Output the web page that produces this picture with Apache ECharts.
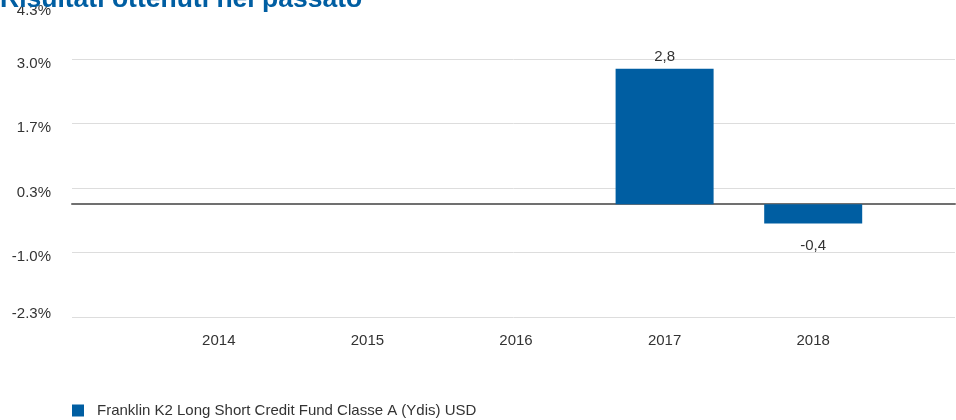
<!DOCTYPE html>
<html>
<head>
<meta charset="utf-8">
<script src="https://cdn.jsdelivr.net/npm/echarts@6/dist/echarts.min.js"></script>
<style>html,body{margin:0;padding:0;background:#fff}#c{width:956px;height:420px}</style>
</head>
<body>
<div id="c"></div>
<script>
var titleText = 'Risultati ottenuti nel passato';
var seriesName = 'Franklin K2 Long Short Credit Fund Classe A (Ydis) USD';
var categories = ['2014', '2015', '2016', '2017', '2018'];
var values = [null, null, null, 2.8, -0.4];
var yMin = -7 / 3, yMax = 13 / 3, yInterval = 4 / 3;
var yTickLabels = ['-2.3%', '-1.0%', '0.3%', '1.7%', '3.0%', '4.3%'];

var FONT = '"Liberation Sans", Arial, sans-serif';
var BLUE = '#005ea2';
var TEXT = '#333';
var chart = echarts.init(document.getElementById('c'), null, {renderer: 'canvas'});

function tickLabel(v) {
  var i = Math.round((v - yMin) / yInterval);
  var s = yTickLabels[i] !== undefined ? yTickLabels[i] : '';
  if (i === yTickLabels.length - 1) return '{t|' + s + '}';
  if (i === 0) return '{b|' + s + '}';
  return '{n|' + s + '}';
}

var tickVals = yTickLabels.map(function (_, i) { return yMin + i * yInterval; });

var barData = values.map(function (v) {
  if (v === null) return null;
  return {
    value: v,
    label: v >= 0 ? {position: 'top', distance: 4} : {position: 'bottom', distance: 15}
  };
});

chart.setOption({
  animation: false,
  title: {
    text: titleText, left: 0, top: -14, padding: 0,
    textStyle: {color: BLUE, fontFamily: FONT, fontWeight: 'bold', fontSize: 26.5}
  },
  legend: {
    left: 72, top: 403, padding: 0, itemWidth: 12, itemHeight: 12, icon: 'rect',
    data: [seriesName],
    textStyle: {color: TEXT, fontFamily: FONT, fontSize: 15, padding: [0, 0, 0, 8]}
  },
  grid: [
    {left: 72, right: 1, top: -5.5, bottom: 103, containLabel: false, outerBoundsMode: 'none'},
    {left: 144.5, right: 68.5, top: -5.5, bottom: 103, containLabel: false, outerBoundsMode: 'none'}
  ],
  xAxis: [
    {type: 'category', gridIndex: 0, data: categories,
      axisLine: {show: true, onZero: true, lineStyle: {color: '#707070', width: 2}},
      axisTick: {show: false}, axisLabel: {show: false}, splitLine: {show: false}},
    {type: 'category', gridIndex: 1, data: categories,
      axisLine: {show: false}, axisTick: {show: false},
      axisLabel: {color: TEXT, fontFamily: FONT, fontSize: 15, margin: 16}}
  ],
  yAxis: [
    {type: 'value', gridIndex: 0, min: yMin, max: yMax, interval: yInterval,
      axisLine: {show: false}, axisTick: {show: false, customValues: tickVals},
      axisLabel: {color: TEXT, fontFamily: FONT, fontSize: 15, margin: 21,
        customValues: tickVals, formatter: tickLabel,
        verticalAlign: 'top', verticalAlignMinLabel: 'bottom', verticalAlignMaxLabel: 'top',
        rich: {
          n: {color: TEXT, fontFamily: FONT, fontSize: 15, lineHeight: 9},
          b: {color: TEXT, fontFamily: FONT, fontSize: 15, lineHeight: 6},
          t: {color: TEXT, fontFamily: FONT, fontSize: 15, lineHeight: 33}
        }},
      splitLine: {show: true, lineStyle: {color: '#dddddd', width: 1}}},
    {type: 'value', gridIndex: 1, min: yMin, max: yMax, interval: yInterval,
      axisLine: {show: false}, axisTick: {show: false}, axisLabel: {show: false},
      splitLine: {show: false}}
  ],
  series: [{
    name: seriesName, type: 'bar', xAxisIndex: 1, yAxisIndex: 1,
    data: barData, barWidth: 98, itemStyle: {color: BLUE},
    label: {show: true, color: TEXT, fontFamily: FONT, fontSize: 15,
      formatter: function (p) { return String(p.value).replace('.', ','); }}
  }]
});
</script>
</body>
</html>
